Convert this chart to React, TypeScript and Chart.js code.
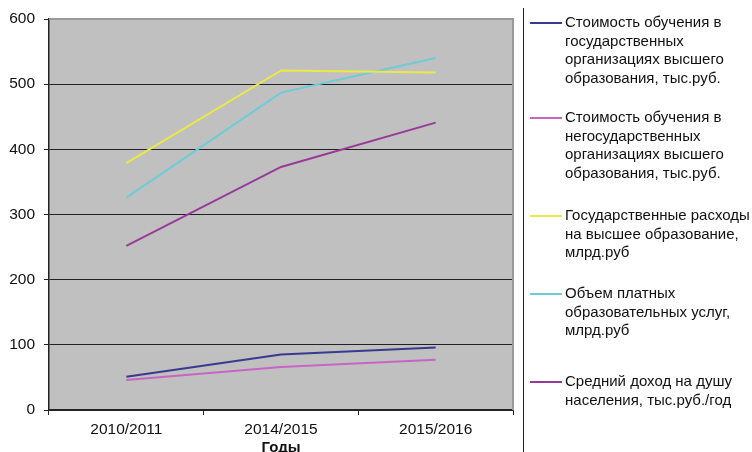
import React, { useEffect, useRef } from "react";
import { Chart, registerables } from "chart.js";

Chart.register(...registerables);

const categories = ["2010/2011", "2014/2015", "2015/2016"];
const seriesNames = [
  ["Стоимость обучения в", "государственных", "организациях высшего", "образования, тыс.руб."],
  ["Стоимость обучения в", "негосударственных", "организациях высшего", "образования, тыс.руб."],
  ["Государственные расходы", "на высшее образование,", "млрд.руб"],
  ["Объем платных", "образовательных услуг,", "млрд.руб"],
  ["Средний доход на душу", "населения, тыс.руб./год"],
];
const statePrice = [51, 85, 96];
const privatePrice = [46, 66, 77];
const stateSpending = [379, 521, 518];
const paidServices = [326, 487, 540];
const avgIncome = [252, 373, 441];
const yTicks = [0, 100, 200, 300, 400, 500, 600];
const xTitle = "Годы";

const seriesValues = [statePrice, privatePrice, stateSpending, paidServices, avgIncome];
const seriesColors = ["#393990", "#C864C4", "#ECE848", "#6CCCD8", "#983A98"];

const FONT = "'Liberation Sans', Arial, sans-serif";

const bgPlugin = {
  id: "plotBg",
  beforeDraw(chart: any) {
    const { ctx, chartArea: a } = chart;
    ctx.save();
    ctx.fillStyle = "#C0C0C0";
    ctx.fillRect(a.left, a.top, a.right - a.left, a.bottom - a.top);
    ctx.restore();
  },
  afterDraw(chart: any) {
    const { ctx, chartArea: a } = chart;
    ctx.save();
    ctx.strokeStyle = "#999999";
    ctx.lineWidth = 2;
    ctx.beginPath();
    ctx.moveTo(a.left, a.top);
    ctx.lineTo(a.right, a.top);
    ctx.lineTo(a.right, a.bottom);
    ctx.stroke();
    ctx.restore();
  },
};

const legendPlugin = {
  id: "sideLegend",
  afterDraw(chart: any, _args: any, opts: any) {
    const { ctx } = chart;
    ctx.save();
    ctx.strokeStyle = "#222";
    ctx.lineWidth = 1;
    ctx.beginPath();
    ctx.moveTo(opts.boxX + 0.5, opts.boxTop);
    ctx.lineTo(opts.boxX + 0.5, chart.height);
    ctx.stroke();
    ctx.font = `${opts.fontSize}px ${FONT}`;
    ctx.textBaseline = "middle";
    ctx.textAlign = "left";
    chart.data.datasets.forEach((ds: any, i: number) => {
      const y = opts.itemTops[i];
      ctx.strokeStyle = ds.borderColor;
      ctx.lineWidth = 2;
      ctx.beginPath();
      ctx.moveTo(opts.lineX0, y);
      ctx.lineTo(opts.lineX1, y);
      ctx.stroke();
      ctx.fillStyle = "#111";
      (ds.label as string[]).forEach((ln, j) => {
        ctx.fillText(ln, opts.textX, y + j * opts.lineHeight);
      });
    });
    ctx.restore();
  },
};

export default function App() {
  const ref = useRef<HTMLCanvasElement>(null);
  useEffect(() => {
    if (!ref.current) return;
    const chart = new Chart(ref.current, {
      type: "line",
      data: {
        labels: categories,
        datasets: seriesValues.map((v, i) => ({
          label: seriesNames[i] as any,
          data: v,
          borderColor: seriesColors[i],
          backgroundColor: seriesColors[i],
          borderWidth: 2,
          pointRadius: 0,
          tension: 0,
        })),
      },
      options: {
        animation: false,
        responsive: false,
        maintainAspectRatio: false,
        layout: { padding: { left: 0, top: 19, right: 239, bottom: 0 } },
        plugins: {
          legend: { display: false },
          tooltip: { enabled: false },
          sideLegend: {
            boxX: 523,
            boxTop: 8,
            lineX0: 530,
            lineX1: 562,
            textX: 565,
            fontSize: 15,
            lineHeight: 18.6,
            itemTops: [23, 118, 216, 294, 382],
          },
        } as any,
        scales: {
          x: {
            type: "category",
            offset: true,
            grid: {
              offset: true,
              drawOnChartArea: false,
              color: "#222",
              tickLength: 5,
            },
            border: { color: "#222", width: 1.5 },
            ticks: {
              color: "#111",
              font: { family: FONT, size: 15.5 },
              padding: 5,
              maxRotation: 0,
            },
            title: {
              display: true,
              text: xTitle,
              color: "#111",
              font: { family: FONT, size: 15, weight: "bold", lineHeight: 0.6 },
              padding: { top: 0, bottom: 0 },
            },
            afterFit(scale: any) {
              scale.height = 42;
            },
          },
          y: {
            min: 0,
            max: 600,
            afterBuildTicks(scale: any) {
              scale.ticks = yTicks.map((v) => ({ value: v }));
            },
            grid: {
              color: (c: any) => (c.tick && c.tick.value === 600 ? "rgba(0,0,0,0)" : "#222"),
              tickColor: "#222",
              tickLength: 5,
              lineWidth: 1,
            },
            border: { color: "#222", width: 1.5 },
            ticks: {
              color: "#111",
              font: { family: FONT, size: 15.5 },
              padding: 9,
            },
            afterFit(scale: any) {
              scale.width = 49;
            },
          },
        },
      },
      plugins: [bgPlugin, legendPlugin],
    });
    return () => chart.destroy();
  }, []);
  return (
    <div style={{ position: "absolute", left: 0, top: 0, width: 752, height: 452, background: "#fff" }}>
      <canvas ref={ref} width={752} height={452} style={{ display: "block", width: 752, height: 452 }} />
    </div>
  );
}
